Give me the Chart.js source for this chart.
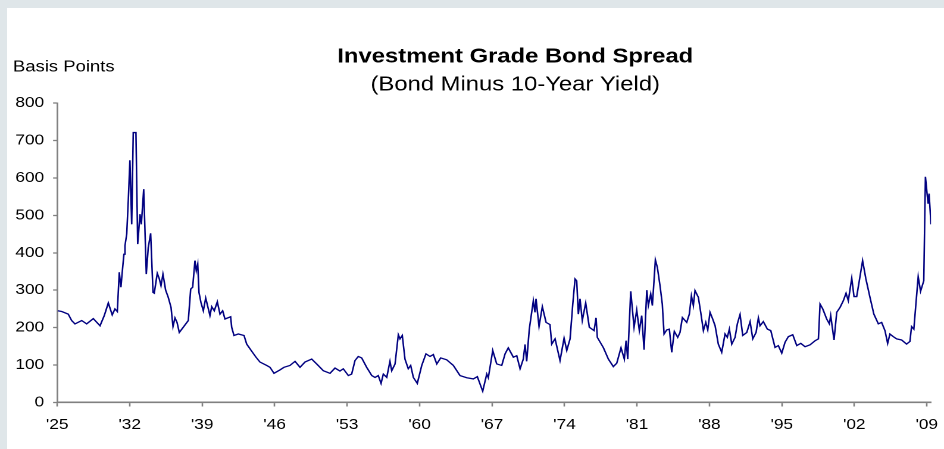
<!DOCTYPE html>
<html>
<head>
<meta charset="utf-8">
<script src="https://cdn.jsdelivr.net/npm/chart.js@4"></script>
<style>
body{margin:0;background:#dfe6e9;overflow:hidden;width:944px;height:449px;position:relative;}
#panel{position:absolute;left:7px;top:8px;right:0;bottom:0;background:#fff;}
#chart{position:absolute;left:0;top:0;transform:scaleX(1.1904);transform-origin:0 0;}
</style>
</head>
<body>
<div id="panel"></div>
<canvas id="chart" width="793" height="449" style="width:793px;height:449px"></canvas>
<script>
// DATA
let years = [
1925.04,1925.43,1926.06,1926.39,1926.71,1927.36,1927.84,1928.48,1929.13,1929.54,1929.93,1930.31,1930.57,1930.80,1930.99,
1931.15,1931.32,1931.44,1931.54,1931.71,1931.86,1932.02,1932.19,1932.34,1932.60,1932.77,1932.99,1933.12,1933.35,1933.60,
1933.79,1934.02,1934.25,1934.37,1934.66,1934.86,1935.02,1935.21,1935.47,1935.72,1935.99,1936.18,1936.37,1936.57,1936.79,
1937.17,1937.66,1937.89,1938.08,1938.30,1938.43,1938.57,1938.69,1938.88,1939.11,1939.34,1939.75,1939.92,1940.17,1940.46,
1940.72,1940.98,1941.20,1941.75,1941.85,1942.07,1942.49,1943.04,1943.30,1943.78,1944.20,1944.58,1945.23,1945.55,1945.94,
1946.51,1946.90,1947.48,1947.97,1948.45,1948.93,1949.58,1950.06,1950.70,1951.35,1951.83,1952.31,1952.63,1953.12,1953.44,
1953.76,1954.08,1954.41,1954.89,1955.38,1955.70,1956.01,1956.28,1956.50,1956.83,1957.14,1957.31,1957.63,1957.95,1958.11,
1958.33,1958.59,1958.91,1959.14,1959.40,1959.78,1960.21,1960.62,1961.01,1961.33,1961.66,1962.04,1962.62,1963.26,1963.91,
1964.56,1965.19,1965.58,1966.10,1966.49,1966.64,1967.07,1967.45,1967.94,1968.26,1968.57,1969.06,1969.39,1969.71,1970.02,
1970.19,1970.35,1970.60,1970.99,1971.15,1971.25,1971.54,1971.86,1972.22,1972.60,1972.77,1973.09,1973.57,1973.96,1974.22,
1974.54,1974.80,1975.02,1975.18,1975.34,1975.50,1975.72,1976.05,1976.40,1976.86,1977.05,1977.17,1977.75,1978.24,1978.72,
1979.05,1979.46,1979.78,1979.95,1980.11,1980.40,1980.72,1980.98,1981.23,1981.46,1981.69,1981.95,1982.10,1982.33,1982.49,
1982.65,1982.78,1982.97,1983.23,1983.45,1983.62,1983.88,1984.13,1984.36,1984.61,1984.94,1985.16,1985.39,1985.81,1986.06,
1986.26,1986.45,1986.61,1986.93,1987.16,1987.42,1987.65,1987.84,1988.06,1988.32,1988.55,1988.86,1989.19,1989.51,1989.73,
1989.93,1990.16,1990.48,1990.70,1990.96,1991.22,1991.61,1991.93,1992.19,1992.51,1992.73,1992.89,1993.21,1993.60,1993.93,
1994.34,1994.66,1994.99,1995.31,1995.63,1996.05,1996.44,1996.83,1997.24,1997.72,1998.21,1998.53,1998.69,1998.95,1999.33,
1999.59,1999.72,2000.04,2000.30,2000.62,2000.94,2001.20,2001.42,2001.75,2001.97,2002.23,2002.48,2002.80,2003.12,2003.51,
2003.89,2004.32,2004.64,2004.96,2005.22,2005.44,2005.76,2006.09,2006.57,2007.05,2007.37,2007.53,2007.75,2007.95,2008.17,
2008.40,2008.71,2008.87,2009.03,2009.13,2009.22,2009.41
];
let spread = [
245,243,236,219,210,219,210,224,205,232,266,234,250,243,348,
308,361,396,419,450,539,647,476,721,721,423,503,476,570,343,
414,452,294,292,345,330,312,343,300,281,254,203,226,214,187,
201,219,303,308,379,352,370,294,267,245,279,232,256,245,269,
236,245,223,229,201,179,183,179,156,137,121,108,99,94,78,
87,94,99,110,94,108,116,103,85,78,92,84,90,72,76,
112,123,119,94,72,67,72,51,76,67,110,85,103,181,170,
179,116,90,99,67,51,99,130,123,128,103,119,114,99,72,
66,63,69,30,76,66,139,103,99,130,146,121,125,90,116,
155,110,196,272,241,277,203,256,214,208,156,170,112,172,139,
170,263,330,325,236,277,219,266,201,192,226,174,147,116,96,
105,146,116,165,116,297,201,247,192,232,141,300,259,290,259,
325,381,361,312,263,183,194,196,134,190,174,187,227,214,236,
285,259,299,281,241,192,214,194,241,223,205,156,134,183,174,
196,156,174,210,235,179,187,216,170,187,226,205,216,196,192,
147,152,132,161,176,181,152,158,149,154,165,170,263,250,223,
210,232,167,241,254,272,292,272,332,283,283,325,379,330,281,
236,210,214,192,158,183,176,170,167,156,163,203,196,263,336,
297,325,603,557,531,558,476
];
let tickYears = [1925,1932,1939,1946,1953,1960,1967,1974,1981,1988,1995,2002,2009];
let yTicks = [0,100,200,300,400,500,600,700,800];

let titleText = "Investment Grade Bond Spread";
let subtitleText = "(Bond Minus 10-Year Yield)";
let unitText = "Basis Points";

let FONT = "'Liberation Sans', Arial, sans-serif";

// TITLE TEXT
let titlePlugin = {
id:"titles",
afterDraw(chart){
let ctx = chart.ctx;
ctx.save();
ctx.fillStyle = "#000";
ctx.textBaseline = "middle";
ctx.textAlign = "center";
ctx.font = "bold 20px " + FONT;
ctx.fillText(titleText, 432.8, 57);
ctx.font = "20px " + FONT;
ctx.fillText(subtitleText, 432.8, 85);
ctx.textAlign = "left";
ctx.font = "15.5px " + FONT;
ctx.fillText(unitText, 10.9, 67);
ctx.restore();
}
};

// CHART
new Chart(document.getElementById("chart"),{
type:"line",
data:{
datasets:[{
data: years.map((y,i)=>({x:y, y:spread[i]})),
borderColor:"#000080",
borderWidth:1.3,
pointRadius:0,
tension:0,
fill:false
}]
},
options:{
responsive:false,
animation:false,
devicePixelRatio:2,
layout:{padding:{left:0,right:10.9,top:103,bottom:16.5}},
plugins:{legend:{display:false},tooltip:{enabled:false}},
scales:{
x:{
type:"linear",
min:1925,
max:2009.41,
afterBuildTicks(scale){ scale.ticks = tickYears.map(v=>({value:v})); },
afterFit(scale){ scale.height = 30; scale.paddingLeft = 0; scale.paddingRight = 0; },
ticks:{
color:"#000",
font:{family:FONT,size:14.5},
padding:10,
maxRotation:0,
autoSkip:false,
callback:(v)=>"'" + String(v).slice(2)
},
grid:{display:true,drawOnChartArea:false,drawTicks:true,tickLength:4,tickColor:"#808080",tickWidth:1.3},
border:{display:true,color:"#808080",width:1.6}
},
y:{
min:0,
max:800,
afterBuildTicks(scale){ scale.ticks = yTicks.map(v=>({value:v})); },
afterFit(scale){ scale.width = 48.1; scale.paddingTop = 0; scale.paddingBottom = 0; },
ticks:{
color:"#000",
font:{family:FONT,size:14.5},
padding:7.5
},
grid:{display:true,drawOnChartArea:false,drawTicks:true,tickLength:3.5,tickColor:"#808080",tickWidth:1.3},
border:{display:true,color:"#808080",width:1.4}
}
}
},
plugins:[titlePlugin]
});
</script>
</body>
</html>
